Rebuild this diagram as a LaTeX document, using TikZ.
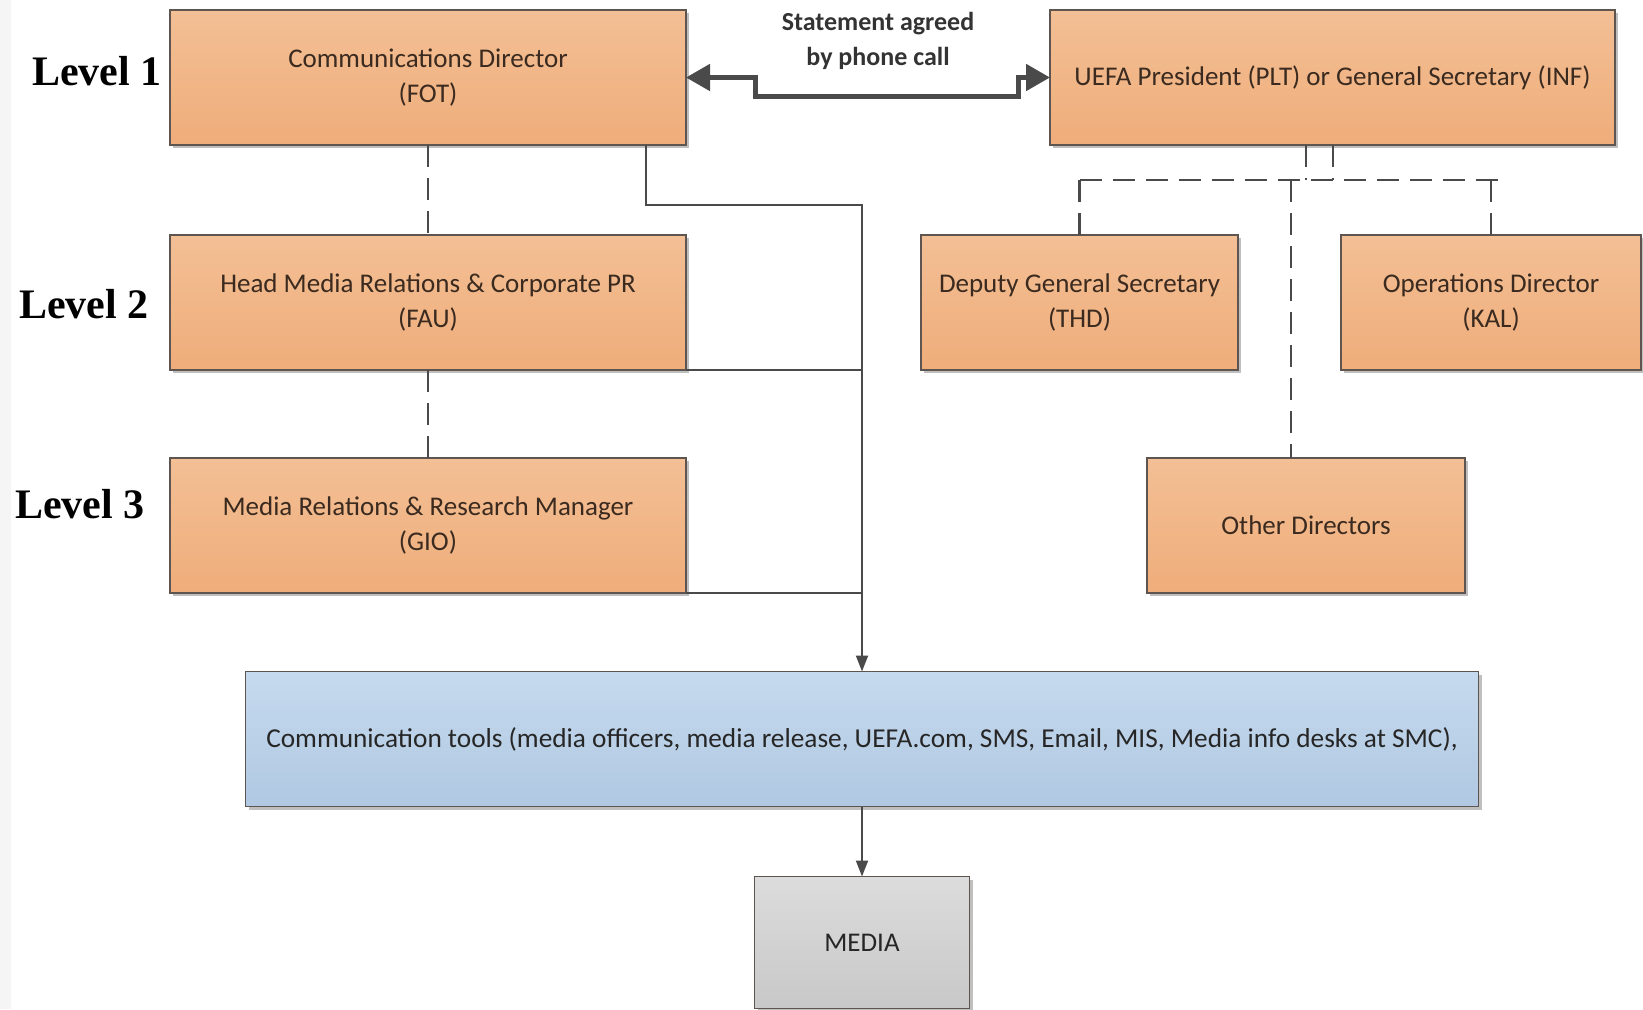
\documentclass[tikz,border=0pt]{standalone}
\usepackage{fontspec}
\setmainfont{Carlito}
\newfontfamily\lvlfont{Liberation Serif}
\usetikzlibrary{arrows.meta,shadows}
\definecolor{orgtop}{HTML}{F3BF95}
\definecolor{orgbot}{HTML}{EFAD7A}
\definecolor{blutop}{HTML}{C6DAEE}
\definecolor{blubot}{HTML}{B0C8E2}
\definecolor{grytop}{HTML}{DCDCDC}
\definecolor{grybot}{HTML}{C8C8C8}
\definecolor{boxline}{HTML}{5E5550}
\definecolor{txt}{HTML}{3A2A1F}
\definecolor{linec}{HTML}{4A4A4A}
\begin{document}
\begin{tikzpicture}[x=1pt,y=-1pt,
  box/.style={draw=boxline, line width=1.8pt, align=center, inner sep=0pt, outer sep=0pt,
    text=txt, font=\fontsize{27}{35}\selectfont,
    drop shadow={shadow xshift=3pt, shadow yshift=-3pt, opacity=0.25, fill=black}},
  orgbox/.style={box, top color=orgtop, bottom color=orgbot},
  blubox/.style={box, top color=blutop, bottom color=blubot, text=black!85},
  grybox/.style={box, top color=grytop, bottom color=grybot, text=black!85},
  lvl/.style={font=\lvlfont\bfseries\fontsize{42}{42}\selectfont, text=black, inner sep=0pt},
  lab/.style={font=\bfseries\fontsize{26}{35}\selectfont, text=black!80, align=center, inner sep=0pt},
  conn/.style={draw=linec, line width=2pt},
  tip/.style={-{Triangle[length=16pt,width=12pt]}},
  dsh/.style={draw=linec, line width=2.2pt, dash pattern=on 22pt off 11pt},
  phone/.style={draw=linec, line width=5pt, line join=miter,
    {Triangle[length=24pt,width=26pt]}-{Triangle[length=24pt,width=26pt]}}
]
\useasboundingbox (0,0) rectangle (1643,1009);
\fill[gray!8] (0,0) rectangle (11,1009);

% level labels
\node[lvl] (l1) at (97,71) {Level 1};
\node[lvl] (l2) at (84,304) {Level 2};
\node[lvl] (l3) at (80,504) {Level 3};

% boxes
\node[orgbox, minimum width=516pt, minimum height=135pt] (cd) at (428,77.5) {Communications Director\\(FOT)};
\node[orgbox, minimum width=565pt, minimum height=135pt] (up) at (1332.5,77.5) {UEFA President (PLT) or General Secretary (INF)};
\node[orgbox, minimum width=516pt, minimum height=135pt] (hm) at (428,302.5) {Head Media Relations \& Corporate PR\\(FAU)};
\node[orgbox, minimum width=516pt, minimum height=135pt] (mr) at (428,525.5) {Media Relations \& Research Manager\\(GIO)};
\node[orgbox, minimum width=317pt, minimum height=135pt] (dep) at (1079.5,302.5) {Deputy General Secretary\\(THD)};
\node[orgbox, minimum width=300pt, minimum height=135pt] (ops) at (1491,302.5) {Operations Director\\(KAL)};
\node[orgbox, minimum width=318pt, minimum height=135pt] (oth) at (1306,525.5) {Other Directors};
\node[blubox, minimum width=1233pt, minimum height=135pt, font=\fontsize{27.3}{35}\selectfont] (tools) at (862,739) {Communication tools (media officers, media release, UEFA.com, SMS, Email, MIS, Media info desks at SMC),};
\node[grybox, minimum width=215pt, minimum height=132pt] (media) at (862,942.5) {MEDIA};

% phone call link
\node[lab] (stmt) at (878,40.5) {Statement agreed\\by phone call};
\coordinate (p1) at (755,77.5);
\coordinate (p2) at (755,96);
\coordinate (p3) at (1018,96);
\coordinate (p4) at (1018,77.5);
\draw[phone] (cd.east) -- (p1) -- (p2) -- (p3) -- (p4) -- (up.west);

% left column dashed links
\draw[dsh] (cd.south) -- (hm.north);
\draw[dsh] (hm.south) -- (mr.north);

% solid route to tools
\coordinate (s1) at ([xshift=218pt]cd.south);
\coordinate (j1) at (862,205);
\draw[conn, tip] (s1) |- (j1) -- (tools.north);
\draw[conn] (hm.south east) -- (hm.south east -| j1);
\draw[conn] (mr.south east) -- (mr.south east -| j1);
\draw[conn, tip] (tools.south) -- (media.north);

% right side dashed tree
\coordinate (hy) at (0,180);
\coordinate (u1) at (1306,150);
\coordinate (u2) at (1333,150);
\draw[dsh] (up.south -| u1) -- (u1 |- hy);
\draw[dsh] (up.south -| u2) -- (u2 |- hy);
\coordinate (hL) at (dep.north |- hy);
\coordinate (hR) at (1505,180);
\draw[dsh] (hL) -- (hR);
\draw[dsh] (hL) -- (dep.north);
\draw[dsh] (ops.north |- hy) -- (ops.north);
\coordinate (oN) at ([xshift=-15pt]oth.north);
\draw[dsh] (oN |- hy) -- (oN);
\end{tikzpicture}
\end{document}
